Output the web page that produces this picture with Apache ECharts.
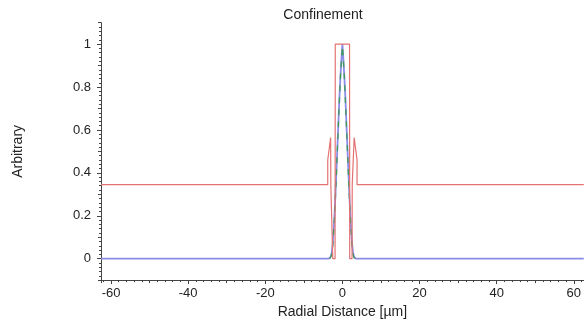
<!DOCTYPE html>
<html>
<head>
<meta charset="utf-8">
<script src="https://cdn.jsdelivr.net/npm/echarts@6/dist/echarts.min.js"></script>
<style>
html,body{margin:0;padding:0;background:#fff;}
#c{width:584px;height:324px;}
</style>
</head>
<body>
<div id="c"></div>
<script>
// ---- data ----
const xRange = [-62.6, 62.6];
const yRange = [-0.1, 1.1];

// red confinement profile (x, value)
const redX = [-62.6, -3.8, -3.8, -3.05, -3.0, -2.55, -2.5, -1.9, -1.85, 1.85, 1.9, 2.5, 2.55, 3.0, 3.05, 3.8, 3.8, 62.6];
const redY = [0.345, 0.345, 0.46, 0.565, 0.345, 0.345, 0, 0, 1, 1, 0, 0, 0.345, 0.345, 0.565, 0.46, 0.345, 0.345];

// blue mode profile
const blueX = [-62.6, -3.5, -3.25, -3.0, -2.75, -2.5, -2.25, -2.0, -1.75, -1.5, -1.25, -1.0, -0.75, -0.5, -0.25, 0, 0.25, 0.5, 0.75, 1.0, 1.25, 1.5, 1.75, 2.0, 2.25, 2.5, 2.75, 3.0, 3.25, 3.5, 62.6];
const blueY = [0, 0, 0.003, 0.01, 0.03, 0.07, 0.14, 0.22, 0.32, 0.43, 0.54, 0.65, 0.76, 0.85, 0.93, 1.0, 0.93, 0.85, 0.76, 0.65, 0.54, 0.43, 0.32, 0.22, 0.14, 0.07, 0.03, 0.01, 0.003, 0, 0];

// green dashed profile
const greenX = [-3.25, -3.0, -2.75, -2.5, -2.25, -2.0, -1.75, -1.5, -1.25, -1.0, -0.75, -0.5, -0.25, 0, 0.25, 0.5, 0.75, 1.0, 1.25, 1.5, 1.75, 2.0, 2.25, 2.5, 2.75, 3.0, 3.25];
const greenY = [0, 0.005, 0.02, 0.06, 0.13, 0.21, 0.31, 0.42, 0.53, 0.64, 0.75, 0.85, 0.93, 0.99, 0.93, 0.85, 0.75, 0.64, 0.53, 0.42, 0.31, 0.21, 0.13, 0.06, 0.02, 0.005, 0];

const titleText = 'Confinement';
const xName = 'Radial Distance [µm]';
const yName = 'Arbitrary';

const zip = (a, b) => a.map((v, i) => [v, b[i]]);
const FONT = 'Liberation Sans, Arial, sans-serif';
const AX = '#444';

const chart = echarts.init(document.getElementById('c'), null, {renderer: 'canvas'});

function tickAxis(kind, splitNumber, len) {
  return {
    type: 'value', min: kind === 'x' ? xRange[0] : yRange[0], max: kind === 'x' ? xRange[1] : yRange[1],
    splitNumber: splitNumber,
    position: kind === 'x' ? 'bottom' : 'left',
    offset: 0,
    axisLine: {show: false, onZero: false},
    axisTick: {show: true, inside: false, length: len, lineStyle: {color: AX, width: 1}},
    axisLabel: {show: false},
    splitLine: {show: false}
  };
}

const option = {
  animation: false,
  backgroundColor: '#fff',
  title: {
    text: titleText, left: 318, top: 3, textAlign: 'center',
    textStyle: {fontFamily: FONT, fontSize: 14, fontWeight: 'normal', color: '#222'}
  },
  grid: {left: 101, top: 22.7, width: 486, height: 259.6, containLabel: false},
  xAxis: [
    {
      type: 'value', min: xRange[0], max: xRange[1], splitNumber: 6,
      position: 'bottom',
      name: xName, nameLocation: 'middle', nameGap: 22,
      nameTextStyle: {fontFamily: FONT, fontSize: 14, color: '#222'},
      axisLine: {show: true, onZero: false, lineStyle: {color: AX, width: 1}},
      axisTick: {show: true, length: 4, lineStyle: {color: AX}},
      axisLabel: {show: true, interval: 0, showMinLabel: false, showMaxLabel: false, margin: 7,
        fontFamily: FONT, fontSize: 13, color: '#222'},
      splitLine: {show: false}
    },
    tickAxis('x', 12, 3),
    tickAxis('x', 62, 2)
  ],
  yAxis: [
    {
      type: 'value', min: yRange[0], max: yRange[1], splitNumber: 6,
      position: 'left',
      name: yName, nameLocation: 'middle', nameGap: 76, nameRotate: 90,
      nameTextStyle: {fontFamily: FONT, fontSize: 14, color: '#222'},
      axisLine: {show: true, onZero: false, lineStyle: {color: AX, width: 1}},
      axisTick: {show: true, length: 4, lineStyle: {color: AX}},
      axisLabel: {show: true, interval: 0, showMinLabel: false, showMaxLabel: false, margin: 10,
        fontFamily: FONT, fontSize: 13, color: '#222'},
      splitLine: {show: false}
    },
    tickAxis('y', 12, 3),
    tickAxis('y', 60, 2)
  ],
  series: [
    {
      type: 'line', name: 'blue', data: zip(blueX, blueY), showSymbol: false, symbol: 'none',
      lineStyle: {color: '#8c8ce8', width: 1.8}, z: 2
    },
    {
      type: 'line', name: 'green', data: zip(greenX, greenY), showSymbol: false, symbol: 'none',
      lineStyle: {color: '#3f9a5a', width: 1.3, type: [6, 6]}, z: 3
    },
    {
      type: 'line', name: 'red', data: zip(redX, redY), showSymbol: false, symbol: 'none',
      lineStyle: {color: '#e47272', width: 1.2}, z: 4
    }
  ]
};
chart.setOption(option);
</script>
</body>
</html>
